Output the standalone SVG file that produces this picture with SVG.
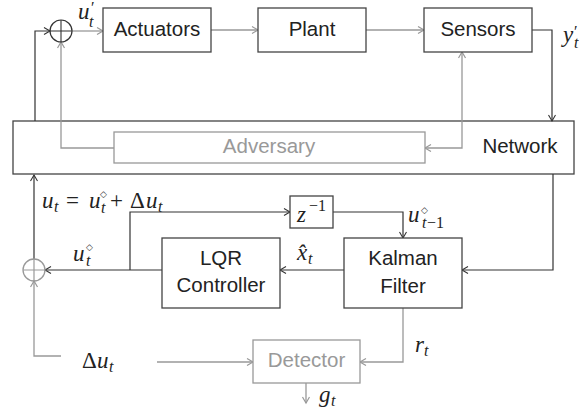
<svg xmlns="http://www.w3.org/2000/svg" width="579" height="415" viewBox="0 0 579 415">
<style>
.box{fill:#fff;stroke:#444;stroke-width:1.3}
.gbox{fill:#fff;stroke:#999;stroke-width:1.3}
.nbox{fill:none;stroke:#444;stroke-width:1.3}
.lbl{font-family:"Liberation Sans",Arial,sans-serif;font-size:20.5px;fill:#222;text-anchor:middle}
.glbl{font-family:"Liberation Sans",Arial,sans-serif;font-size:20.5px;fill:#999;text-anchor:middle}
.k{fill:none;stroke:#333;stroke-width:1.2}
.g{fill:none;stroke:#999;stroke-width:1.3}
.m{font-family:"Liberation Serif","Times New Roman",serif;font-style:italic;font-size:23px;fill:#222}
.mr{font-style:normal}
.sub{font-size:16px}
.dia{font-family:"DejaVu Sans",sans-serif;font-size:9px;font-style:normal;fill:#333}
</style>
<defs>
<marker id="ak" markerUnits="userSpaceOnUse" markerWidth="10" markerHeight="10" refX="7" refY="4" orient="auto">
<path d="M1,0.5 L7,4 L1,7.5" fill="none" stroke="#333" stroke-width="1.1"/>
</marker>
<marker id="ag" markerUnits="userSpaceOnUse" markerWidth="10" markerHeight="10" refX="7" refY="4" orient="auto">
<path d="M1,0.5 L7,4 L1,7.5" fill="none" stroke="#999" stroke-width="1.2"/>
</marker>
<marker id="ags" markerUnits="userSpaceOnUse" markerWidth="10" markerHeight="10" refX="7" refY="4" orient="auto-start-reverse">
<path d="M1,0.5 L7,4 L1,7.5" fill="none" stroke="#999" stroke-width="1.2"/>
</marker>
</defs>

<g id="network">
<rect class="nbox" x="13" y="121" width="561" height="53"/>
<text class="lbl" x="520" y="153">Network</text>
</g>

<g id="connectors">
<path class="k" d="M35,121 V31 H50" marker-end="url(#ak)"/>
<path class="g" d="M72,31 H103" marker-end="url(#ag)"/>
<path class="g" d="M211,30 H258" marker-end="url(#ag)"/>
<path class="g" d="M366,30 H424" marker-end="url(#ag)"/>
<path class="k" d="M532,30 H552 V121" marker-end="url(#ak)"/>
<path class="g" d="M462,52 V148 H425" marker-start="url(#ags)" marker-end="url(#ags)"/>
<path class="g" d="M114,148 H61 V42" marker-end="url(#ag)"/>
<path class="k" d="M553,174 V270 H462" marker-end="url(#ak)"/>
<path class="k" d="M344,270 H280" marker-end="url(#ak)"/>
<path class="k" d="M162,270 H45" marker-end="url(#ak)"/>
<path class="k" d="M130,270 V212 H290" marker-end="url(#ak)"/>
<path class="k" d="M333,212 H403 V238" marker-end="url(#ak)"/>
<path class="k" d="M34,259 V175" marker-end="url(#ak)"/>
<path class="g" d="M61,356 H34 V281" marker-end="url(#ag)"/>
<path class="g" d="M157,362 H253" marker-end="url(#ag)"/>
<path class="g" d="M403,308 V362 H360" marker-end="url(#ag)"/>
<path class="g" d="M306,383 V403" marker-end="url(#ag)"/>
</g>

<g id="sum-top">
<circle cx="61" cy="31" r="11" fill="none" stroke="#333" stroke-width="1.2"/>
<path d="M50,31 H72 M61,20 V42" stroke="#333" stroke-width="1.1"/>
</g>
<g id="sum-bottom">
<circle cx="34" cy="270" r="11" fill="none" stroke="#999" stroke-width="1.3"/>
<path d="M23,270 H45 M34,259 V281" stroke="#999" stroke-width="1.2"/>
</g>

<g id="actuators">
<rect class="box" x="103" y="8" width="108" height="44"/>
<text class="lbl" x="157" y="36">Actuators</text>
</g>
<g id="plant">
<rect class="box" x="258" y="8" width="108" height="44"/>
<text class="lbl" x="312" y="36">Plant</text>
</g>
<g id="sensors">
<rect class="box" x="424" y="8" width="108" height="44"/>
<text class="lbl" x="478" y="36">Sensors</text>
</g>
<g id="adversary">
<rect class="gbox" x="114" y="132" width="311" height="31"/>
<text class="glbl" x="269" y="153">Adversary</text>
</g>
<g id="delay">
<rect class="box" x="290" y="196" width="43" height="32"/>
<text class="m" x="297" y="222">z<tspan class="mr sub" x="309" y="211">−1</tspan></text>
</g>
<g id="lqr">
<rect class="box" x="162" y="238" width="118" height="70"/>
<text class="lbl" x="221" y="265">LQR</text>
<text class="lbl" x="221" y="292">Controller</text>
</g>
<g id="kalman">
<rect class="box" x="344" y="238" width="118" height="70"/>
<text class="lbl" x="403" y="265">Kalman</text>
<text class="lbl" x="403" y="293">Filter</text>
</g>
<g id="detector">
<rect class="gbox" x="253" y="340" width="107" height="43"/>
<text class="glbl" x="306.5" y="367">Detector</text>
</g>

<g id="labels">
<text class="m" x="78" y="19">u<tspan class="mr sub" x="91" y="13">′</tspan><tspan class="sub" x="89" y="27">t</tspan></text>
<text class="m" x="563" y="42">y<tspan class="mr sub" x="574" y="37">′</tspan><tspan class="sub" x="574" y="48">t</tspan></text>
<text class="m" x="42" y="208">u<tspan class="sub" x="54" y="212">t</tspan><tspan class="mr" x="66" y="208">=</tspan><tspan x="89" y="208">u</tspan><tspan class="sub" x="101" y="213">t</tspan><tspan class="mr" x="110" y="208">+</tspan><tspan class="mr" x="130" y="208">Δ</tspan><tspan x="146" y="208">u</tspan><tspan class="sub" x="158" y="212">t</tspan></text>
<text class="dia" x="100" y="197">◇</text>
<text class="m" x="408" y="222">u<tspan class="sub" x="422" y="228">t</tspan><tspan class="mr sub" x="427" y="228">−1</tspan></text>
<text class="dia" x="421" y="213">◇</text>
<text class="m" x="73" y="261">u<tspan class="sub" x="86" y="266">t</tspan></text>
<text class="dia" x="86" y="250">◇</text>
<text class="m" x="297" y="260">x&#x302;<tspan class="sub" x="308" y="264">t</tspan></text>
<text class="m" x="82" y="368"><tspan class="mr">Δ</tspan><tspan x="97">u</tspan><tspan class="sub" x="109" y="372">t</tspan></text>
<text class="m" x="415" y="352">r<tspan class="sub" x="424" y="356">t</tspan></text>
<text class="m" x="319" y="402">g<tspan class="sub" x="331" y="406">t</tspan></text>
</g>
</svg>
